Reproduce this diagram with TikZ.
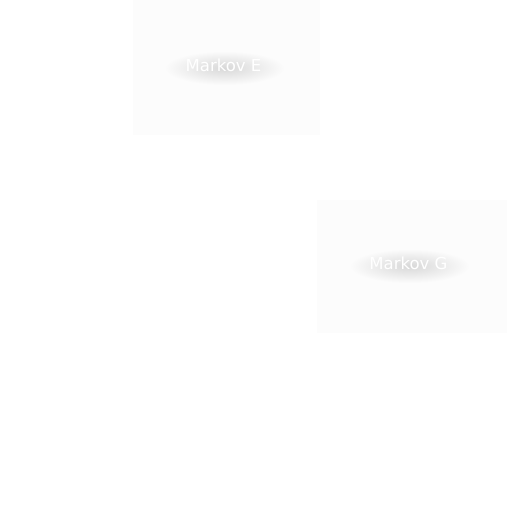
\documentclass[tikz,border=0pt]{standalone}
\usepackage{fontspec}
\setmainfont{DejaVu Sans}
\definecolor{MKPanel}{HTML}{FCFCFC}
\definecolor{MKShade}{HTML}{D8D8D8}
\tikzset{
  mkpanel/.style={fill=MKPanel,draw=none,inner sep=0pt},
  mklabel/.style={text=white,font=\fontsize{9.4}{11}\selectfont,inner sep=0pt},
  mkshade/.style={inner color=MKShade,outer color=MKPanel}
}
\begin{document}
\begin{tikzpicture}[x=1cm,y=1cm]
\path[use as bounding box,fill=white] (0,0) rectangle (10.24,10.24);
% panels
\node[mkpanel,minimum width=3.74cm,minimum height=2.70cm] (panelE) at (4.53,8.89) {};
\node[mkpanel,minimum width=3.80cm,minimum height=2.66cm] (panelG) at (8.24,4.91) {};
% soft shadows under the labels
\shade[mkshade] (4.49,8.88) ellipse (1.20 and 0.34);
\shade[mkshade] (8.19,4.92) ellipse (1.20 and 0.34);
% labels
\node[mklabel] (markovE) at (4.47,8.94) {Markov E};
\node[mklabel] (markovG) at (8.17,4.98) {Markov G};
\end{tikzpicture}
\end{document}
